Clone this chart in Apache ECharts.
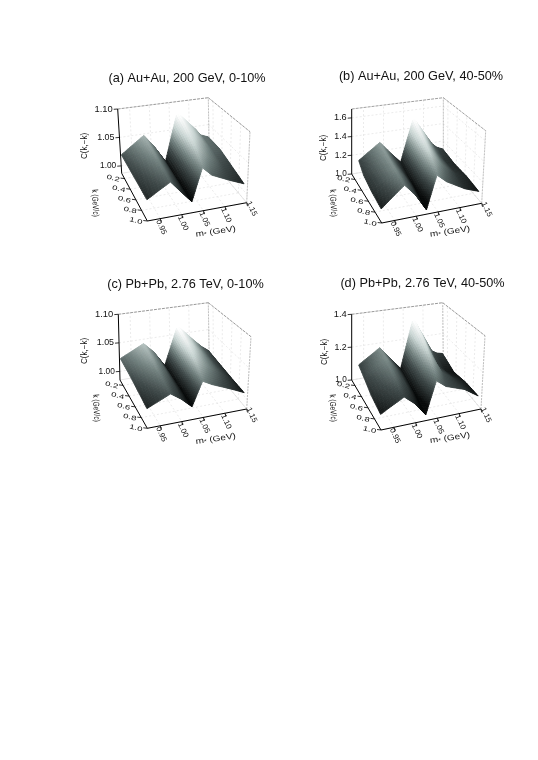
<!DOCTYPE html>
<html>
<head>
<meta charset="utf-8">
<style>html,body{margin:0;padding:0;background:#fff}#c{width:538px;height:760px}</style>
<script src="https://cdn.jsdelivr.net/npm/echarts@6/dist/echarts.min.js"></script>
</head>
<body>
<div id="c"></div>
<script>
// ---------- data ----------
const massTicks = [0.95, 1.00, 1.05, 1.10, 1.15];
const kTicks = [0.2, 0.4, 0.6, 0.8, 1.0];
const cTicksA = [1.00, 1.05, 1.10];
const cTicksB = [1.0, 1.2, 1.4, 1.6];
const cTicksC = [1.00, 1.05, 1.10];
const cTicksD = [1.0, 1.2, 1.4];
const massRange = [0.92, 1.15];
const kRange = [0.1, 1.0];
const titles = ['(a) Au+Au, 200 GeV, 0-10%', '(b) Au+Au, 200 GeV, 40-50%', '(c) Pb+Pb, 2.76 TeV, 0-10%', '(d) Pb+Pb, 2.76 TeV, 40-50%'];

// mass of each surface mesh line, one row per k row
const massRowsCentral = [
  [0.92, 0.980, 1.005, 1.033, 1.067, 1.110, 1.125, 1.145],
  [0.92, 0.977, 1.003, 1.030, 1.060, 1.100, 1.122, 1.145],
  [0.92, 0.975, 1.000, 1.027, 1.053, 1.087, 1.118, 1.143],
  [0.92, 0.974, 0.998, 1.023, 1.046, 1.068, 1.110, 1.142]
];
const massRowsPeripheral = [
  [0.935, 0.988, 1.012, 1.040, 1.072, 1.118, 1.130, 1.145],
  [0.925, 0.981, 1.006, 1.033, 1.062, 1.103, 1.124, 1.145],
  [0.92, 0.975, 1.000, 1.027, 1.053, 1.087, 1.118, 1.143],
  [0.92, 0.974, 0.998, 1.023, 1.046, 1.068, 1.110, 1.142]
];
const kRows = [0.13, 0.4, 0.7, 1.0];
const surfaceA = [
  [1.022, 1.050, 1.028, 0.998, 1.083, 1.050, 1.036, 1.030],
  [1.021, 1.048, 1.027, 0.999, 1.077, 1.050, 1.034, 1.030],
  [1.020, 1.044, 1.025, 1.001, 1.067, 1.046, 1.030, 1.024],
  [1.019, 1.040, 1.022, 1.004, 1.054, 1.040, 1.027, 1.018]
];
const surfaceB = [
  [1.15, 1.31, 1.19, 1.06, 1.53, 1.21, 1.16, 1.13],
  [1.15, 1.32, 1.20, 1.06, 1.49, 1.24, 1.14, 1.11],
  [1.15, 1.33, 1.22, 1.06, 1.44, 1.28, 1.17, 1.13],
  [1.13, 1.31, 1.20, 1.04, 1.35, 1.27, 1.17, 1.12]
];
const surfaceC = [
  [1.025, 1.045, 1.028, 1.000, 1.068, 1.036, 1.025, 1.014],
  [1.023, 1.042, 1.027, 1.001, 1.064, 1.038, 1.023, 1.012],
  [1.019, 1.036, 1.024, 1.003, 1.054, 1.038, 1.024, 1.012],
  [1.015, 1.031, 1.020, 1.005, 1.042, 1.034, 1.022, 1.012]
];
const surfaceD = [
  [1.095, 1.18, 1.11, 1.03, 1.335, 1.11, 1.09, 1.08],
  [1.115, 1.195, 1.125, 1.04, 1.32, 1.11, 1.06, 1.045],
  [1.10, 1.18, 1.125, 1.04, 1.27, 1.15, 1.10, 1.07],
  [1.08, 1.146, 1.10, 1.03, 1.20, 1.16, 1.125, 1.075]
];

// ---------- view: box corners on the page plane ----------
const views = [
  {bl:[121.7,173.3], br:[209.3,158.3], fl:[147.3,221], fr:[246.7,202.7], blt:[117.7,109], brt:[208.3,97.7], flt:[146,146], frt:[250,131.7], c:[0.987,1.10], title:[182,73], cTitle:[85,146], kTitle:[95,203], mTitle:[215.7,231.7]},
  {bl:[351.7,174], br:[443.3,158.5], fl:[381.7,223], fr:[481.7,203.3], blt:[351.7,109], brt:[443.3,97.7], flt:[379,148], frt:[485.7,130.7], c:[1.0,1.695], title:[416,71.5], cTitle:[324,148], kTitle:[333,203], mTitle:[450,231.7]},
  {bl:[120,380], br:[209.3,364.3], fl:[147.3,428.3], fr:[246.7,409], blt:[118.3,314.3], brt:[208.3,302.7], flt:[146,353], frt:[251,336.7], c:[0.985,1.10], title:[180.5,279], cTitle:[85,351], kTitle:[96,408], mTitle:[215.7,439]},
  {bl:[351.7,380], br:[443.3,364], fl:[381,430], fr:[481,409], blt:[351.7,314.3], brt:[442.7,302.7], flt:[379,352], frt:[485,335.7], c:[1.0,1.4], title:[417.5,278], cTitle:[325,352], kTitle:[332.7,408], mTitle:[450,438]}
];
const panels = [
  {surface:surfaceA, cTicks:cTicksA, digits:2, massRows:massRowsCentral},
  {surface:surfaceB, cTicks:cTicksB, digits:1, massRows:massRowsPeripheral},
  {surface:surfaceC, cTicks:cTicksC, digits:2, massRows:massRowsCentral},
  {surface:surfaceD, cTicks:cTicksD, digits:1, massRows:massRowsPeripheral}
];

const lerp = (a,b,t)=>a+(b-a)*t;
function project(v, m, k, c){
  const u=(m-massRange[0])/(massRange[1]-massRange[0]);
  const w=(k-kRange[0])/(kRange[1]-kRange[0]);
  const h=(c-v.c[0])/(v.c[1]-v.c[0]);
  const out=[];
  for(let i=0;i<2;i++){
    const bot=lerp(lerp(v.bl[i],v.br[i],u),lerp(v.fl[i],v.fr[i],u),w);
    const top=lerp(lerp(v.blt[i],v.brt[i],u),lerp(v.flt[i],v.frt[i],u),w);
    out.push(lerp(bot,top,h));
  }
  return out;
}
const stops=[[0,[8,10,10]],[0.3,[62,72,72]],[0.5,[115,130,128]],[0.75,[200,212,210]],[1,[255,255,255]]];
function shade(t){
  t=Math.max(0,Math.min(1,t));
  for(let i=1;i<stops.length;i++){
    if(t<=stops[i][0]){
      const f=(t-stops[i-1][0])/(stops[i][0]-stops[i-1][0]);
      const a=stops[i-1][1],b=stops[i][1];
      return 'rgb('+[0,1,2].map(j=>Math.round(lerp(a[j],b[j],f))).join(',')+')';
    }
  }
  return '#fff';
}
const SUB_M=16, SUB_K=8;
function surfaceSeries(pi){
  const p=panels[pi], v=views[pi], s=p.surface, massRows=p.massRows;
  const all=s.flat(), lo=Math.min(...all), hi=Math.max(...all);
  const cells=[];
  for(let r=0;r<s.length-1;r++) for(let j=s[0].length-2;j>=0;j--) cells.push([r,j]);
  return {
    type:'custom', name:titles[pi], coordinateSystem:'cartesian2d', silent:true, clip:false, z:3,
    data:cells, encode:{x:0,y:1}, progressive:0,
    renderItem:function(params,api){
      const r=api.value(0), j=api.value(1);
      const pt=(a,b)=>{
        const m=lerp(lerp(massRows[r][j],massRows[r][j+1],b),lerp(massRows[r+1][j],massRows[r+1][j+1],b),a);
        const k=lerp(kRows[r],kRows[r+1],a);
        const c=lerp(lerp(s[r][j],s[r][j+1],b),lerp(s[r+1][j],s[r+1][j+1],b),a);
        const xy=project(v,m,k,c);
        return {xy:api.coord(xy), t:(c-lo)/(hi-lo)-0.16*(k-kRange[0])/(kRange[1]-kRange[0])+0.05};
      };
      const children=[];
      for(let a=0;a<SUB_K;a++) for(let b=SUB_M-1;b>=0;b--){
        const q=[pt(a/SUB_K,b/SUB_M),pt(a/SUB_K,(b+1)/SUB_M),pt((a+1)/SUB_K,(b+1)/SUB_M),pt((a+1)/SUB_K,b/SUB_M)];
        const col=shade((q[0].t+q[1].t+q[2].t+q[3].t)/4);
        children.push({type:'polygon',shape:{points:q.map(o=>o.xy)},style:{fill:col,stroke:col,lineWidth:0.8}});
      }
      return {type:'group',children};
    }
  };
}
function frameSeries(pi){
  const p=panels[pi], v=views[pi];
  const [c0,c1]=v.c, [m0,m1]=massRange, [k0,k1]=kRange;
  return {
    type:'custom', name:'frame '+pi, coordinateSystem:'cartesian2d', silent:true, clip:false, z:2,
    data:[[0,0]], encode:{x:0,y:1},
    renderItem:function(params,api){
      const P=(m,k,c)=>api.coord(project(v,m,k,c));
      const ch=[];
      const line=(a,b,color,w,dash)=>ch.push({type:'line',shape:{x1:a[0],y1:a[1],x2:b[0],y2:b[1]},style:{stroke:color,lineWidth:w,lineDash:dash||null}});
      const grid='#dedede', gd=[2,2];
      massTicks.forEach(m=>{
        line(P(m,k0,c0),P(m,k1,c0),grid,0.6,gd);
        line(P(m,k0,c0),P(m,k0,c1),grid,0.6,gd);
      });
      kTicks.forEach(k=>{
        line(P(m0,k,c0),P(m1,k,c0),grid,0.6,gd);
        line(P(m1,k,c0),P(m1,k,c1),grid,0.6,gd);
      });
      p.cTicks.forEach(c=>{
        line(P(m0,k0,c),P(m1,k0,c),grid,0.6,gd);
        line(P(m1,k0,c),P(m1,k1,c),grid,0.6,gd);
      });
      line(P(m0,k0,c0),P(m1,k0,c0),'#d6d6d6',0.6);
      line(P(m1,k0,c0),P(m1,k1,c0),'#d6d6d6',0.6);
      line(P(m0,k0,c1),P(m1,k0,c1),'#777',0.7,[3,1]);
      line(P(m1,k0,c1),P(m1,k1,c1),'#777',0.7,[3,1]);
      line(P(m1,k0,c0),P(m1,k0,c1),'#aaa',0.7,[2,1]);
      line(P(m1,k1,c0),P(m1,k1,c1),'#aaa',0.7,[2,1]);
      line(P(m0,k0,c0),P(m0,k0,c1),'#000',1);
      line(P(m0,k0,c0),P(m0,k1,c0),'#000',1);
      line(P(m0,k1,c0),P(m1,k1,c0),'#000',1);
      const text=(t,xy,size,rot,align,sx,sy)=>ch.push({type:'text',x:xy[0],y:xy[1],rotation:rot*Math.PI/180,scaleX:sx||1,scaleY:sy||1,
        style:{text:t,fontFamily:'Liberation Sans',fontSize:size,fill:'#111',align:align,verticalAlign:'middle'}});
      p.cTicks.forEach(c=>{
        const a=P(m0,k0,c);
        line(a,[a[0]-4,a[1]+0.3],'#000',0.8);
        const h=(c-c0)/(c1-c0);
        text(c.toFixed(p.digits),[a[0]-5,a[1]],8.2+1.2*h,0,'right');
      });
      kTicks.forEach(k=>{
        const a=P(m0,k,c0);
        line(a,[a[0]-4,a[1]-0.5],'#000',0.8);
        text(k.toFixed(1),[a[0]-5,a[1]+1.5],8,-14,'right',1.2,0.8);
      });
      massTicks.forEach((m,i)=>{
        const a=P(m,k1,c0);
        line(a,[a[0]+0.8,a[1]+3.5],'#000',0.8);
        const last=i===massTicks.length-1;
        text(m.toFixed(2),[a[0]+(last?5:1),a[1]+(last?6:8.5)],8,-65,'center',1,0.95);
      });
      text('C(k,−k)',v.cTitle,8.5,90,'center',0.95,1);
      text('k (GeV/c)',v.kTitle,9,-87,'center',0.72,0.95);
      ch.push({type:'text',x:v.mTitle[0],y:v.mTitle[1],rotation:8*Math.PI/180,scaleX:1.05,scaleY:0.85,style:{
        text:'{a|m}{b|*} (GeV)',align:'center',verticalAlign:'middle',fill:'#111',
        rich:{a:{fontFamily:'Liberation Sans',fontSize:9.5,fill:'#111'},b:{fontFamily:'Liberation Sans',fontSize:7,fill:'#111',verticalAlign:'bottom'}},
        fontFamily:'Liberation Sans',fontSize:9.5}});
      return {type:'group',children:ch};
    }
  };
}
const chart=echarts.init(document.getElementById('c'),null,{renderer:'canvas',width:538,height:760});
chart.setOption({
  animation:false,
  backgroundColor:'#ffffff',
  title:titles.map((t,i)=>({text:t,left:views[i].title[0],top:views[i].title[1],textAlign:'center',textVerticalAlign:'middle',
    textStyle:{fontFamily:'Liberation Sans',fontSize:12.7,fontWeight:'normal',color:'#111'}})),
  grid:{left:0,right:0,top:0,bottom:0},
  xAxis:{type:'value',min:0,max:538,show:false},
  yAxis:{type:'value',min:0,max:760,inverse:true,show:false},
  series:[0,1,2,3].map(frameSeries).concat([0,1,2,3].map(surfaceSeries))
});
</script>
</body>
</html>
